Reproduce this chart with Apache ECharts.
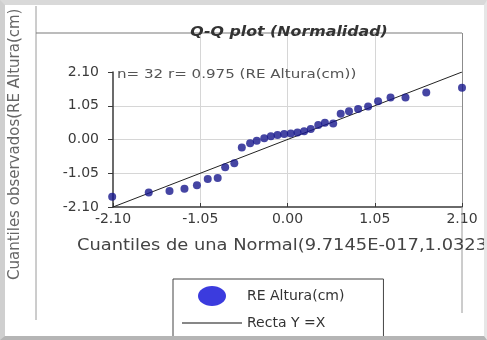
<!DOCTYPE html>
<html>
<head>
<meta charset="utf-8">
<script src="https://cdn.jsdelivr.net/npm/echarts@6/dist/echarts.min.js"></script>
<style>
  html, body { margin: 0; padding: 0; background: #ffffff; }
  #c { position: absolute; left: 0; top: 0; width: 487px; height: 340px; }
  #frame { position: absolute; left: 0; top: 0; width: 487px; height: 340px; box-sizing: border-box;
    border-top: 5px solid #d9d9d9; border-left: 5px solid #cfcfcf; border-bottom: 4px solid #b5b5b5; border-right: 3px solid #e6e6e6;
    pointer-events: none; }
</style>
</head>
<body>
<div id="c"></div>
<div id="frame"></div>
<script>
// ---- data ----
var theoreticalQuantiles = [-2.11, -1.67, -1.42, -1.24, -1.09, -0.96, -0.84, -0.75, -0.64, -0.55,
  -0.45, -0.37, -0.28, -0.20, -0.12, -0.04, 0.04, 0.12, 0.20, 0.28, 0.37, 0.45, 0.55, 0.64,
  0.74, 0.85, 0.97, 1.09, 1.24, 1.42, 1.67, 2.10];
var observedQuantiles = [-1.78, -1.65, -1.60, -1.53, -1.42, -1.23, -1.20, -0.86, -0.74, -0.25,
  -0.12, -0.04, 0.04, 0.10, 0.14, 0.17, 0.19, 0.22, 0.26, 0.33, 0.45, 0.52, 0.50, 0.80,
  0.88, 0.95, 1.03, 1.19, 1.31, 1.31, 1.46, 1.61];
var axisTicks = [-2.10, -1.05, 0.00, 1.05, 2.10];
var refLineX = [-2.10, 2.10];
var seriesNames = ['RE Altura(cm)', 'Recta Y =X'];
var titleText = 'Q-Q plot (Normalidad)';
var noteText = 'n= 32 r= 0.975 (RE Altura(cm))';
var xTitle = 'Cuantiles de una Normal(9.7145E-017,1.0323';
var yTitle = 'Cuantiles observados(RE Altura(cm)';

// ---- build ----
var scatterData = theoreticalQuantiles.map(function (x, i) { return [x, observedQuantiles[i]]; });
var lineData = refLineX.map(function (x) { return [x, x]; });
var aMin = axisTicks[0], aMax = axisTicks[axisTicks.length - 1], aStep = axisTicks[1] - axisTicks[0];
var FONT = 'DejaVu Sans';
var fmt = function (v) { return (Math.abs(v) < 1e-9 ? 0 : v).toFixed(2); };
var ellipseIcon = 'path://M0,0M60,20M16,10a14,10 0 1 0 28 0a14,10 0 1 0 -28 0Z';
var lineIcon = 'path://M0,0M60,20M0,9.5h60v1h-60Z';

var chart = echarts.init(document.getElementById('c'), null, { renderer: 'canvas' });
chart.setOption({
  backgroundColor: '#ffffff',
  animation: false,
  grid: [
    { left: 113, right: 25, top: 33, bottom: 133 },
    { left: 113, right: 25, top: 72, bottom: 133 }
  ],
  xAxis: [
    { gridIndex: 0, type: 'value', min: aMin, max: aMax, interval: aStep,
      axisLine: { show: false }, axisTick: { show: false }, axisLabel: { show: false },
      splitLine: { show: true, lineStyle: { width: 1, color: ['rgba(0,0,0,0)', '#d6d6d6', '#d6d6d6', '#d6d6d6', '#8c8c8c'] } } },
    { gridIndex: 1, type: 'value', min: aMin, max: aMax, interval: aStep,
      axisLine: { show: true, onZero: false, lineStyle: { color: '#3a3a3a', width: 1.5 } },
      axisTick: { show: true, inside: true, length: 4, lineStyle: { color: '#3a3a3a' } },
      axisLabel: { show: true, margin: 5, formatter: fmt, fontFamily: FONT, fontSize: 14, color: '#3a3a3a' },
      splitLine: { show: false } }
  ],
  yAxis: [
    { gridIndex: 0, type: 'value', min: 0, max: 1, show: false },
    { gridIndex: 1, type: 'value', min: aMin, max: aMax, interval: aStep,
      axisLine: { show: true, onZero: false, lineStyle: { color: '#3a3a3a', width: 1.5 } },
      axisTick: { show: true, inside: false, length: 5, lineStyle: { color: '#3a3a3a' } },
      axisLabel: { show: true, margin: 14, formatter: fmt, fontFamily: FONT, fontSize: 14, color: '#3a3a3a' },
      splitLine: { show: true, lineStyle: { width: 1, color: ['rgba(0,0,0,0)', '#d6d6d6', '#d6d6d6', '#d6d6d6', 'rgba(0,0,0,0)'] } } }
  ],
  legend: {
    type: 'plain', orient: 'vertical', align: 'left', left: 173, top: 279, height: 200,
    padding: [7, 39, 14, 9],
    itemWidth: 60, itemHeight: 20, itemGap: 7,
    backgroundColor: '#ffffff', borderColor: '#444444', borderWidth: 1,
    textStyle: { fontFamily: FONT, fontSize: 14, color: '#333333' },
    data: [
      { name: seriesNames[0], icon: ellipseIcon, itemStyle: { color: '#0a0ad6' } },
      { name: seriesNames[1], icon: lineIcon, itemStyle: { color: '#111111' } }
    ]
  },
  series: [
    { name: seriesNames[1], type: 'line', xAxisIndex: 1, yAxisIndex: 1, data: lineData,
      symbol: 'none', lineStyle: { color: '#222222', width: 1 }, itemStyle: { color: '#222222' }, z: 2 },
    { name: seriesNames[0], type: 'scatter', xAxisIndex: 1, yAxisIndex: 1, data: scatterData,
      symbol: 'circle', symbolSize: 8, itemStyle: { color: '#17178c' }, clip: false, z: 3 }
  ],
  graphic: [
    { type: 'line', shape: { x1: 36, y1: 6, x2: 36, y2: 320 }, style: { stroke: '#9a9a9a', lineWidth: 1 }, z: 1 },
    { type: 'line', shape: { x1: 36, y1: 33, x2: 462, y2: 33 }, style: { stroke: '#7a7a7a', lineWidth: 1.2 }, z: 1 },
    { type: 'line', shape: { x1: 462, y1: 207, x2: 462, y2: 313 }, style: { stroke: '#9a9a9a', lineWidth: 1 }, z: 1 },
    { type: 'text', x: 289, y: 32, scaleX: 1.13, z: 5,
      style: { text: titleText, x: 0, y: 0, align: 'center', verticalAlign: 'middle',
        font: 'italic bold 14px "DejaVu Sans"', fill: '#333333' } },
    { type: 'text', x: 117, y: 75, scaleX: 1.16, z: 5,
      style: { text: noteText, x: 0, y: 0, align: 'left', verticalAlign: 'middle',
        font: '13px "DejaVu Sans"', fill: '#555555' } },
    { type: 'text', x: 77, y: 246, scaleX: 1.19, z: 5,
      style: { text: xTitle, x: 0, y: 0, align: 'left', verticalAlign: 'middle',
        font: '15px "DejaVu Sans"', fill: '#444444' } },
    { type: 'text', x: 15, y: 280, rotation: Math.PI / 2, z: 5,
      style: { text: yTitle, x: 0, y: 0, align: 'left', verticalAlign: 'middle',
        font: '15px "DejaVu Sans"', fill: '#666666' } }
  ]
});
</script>
</body>
</html>
